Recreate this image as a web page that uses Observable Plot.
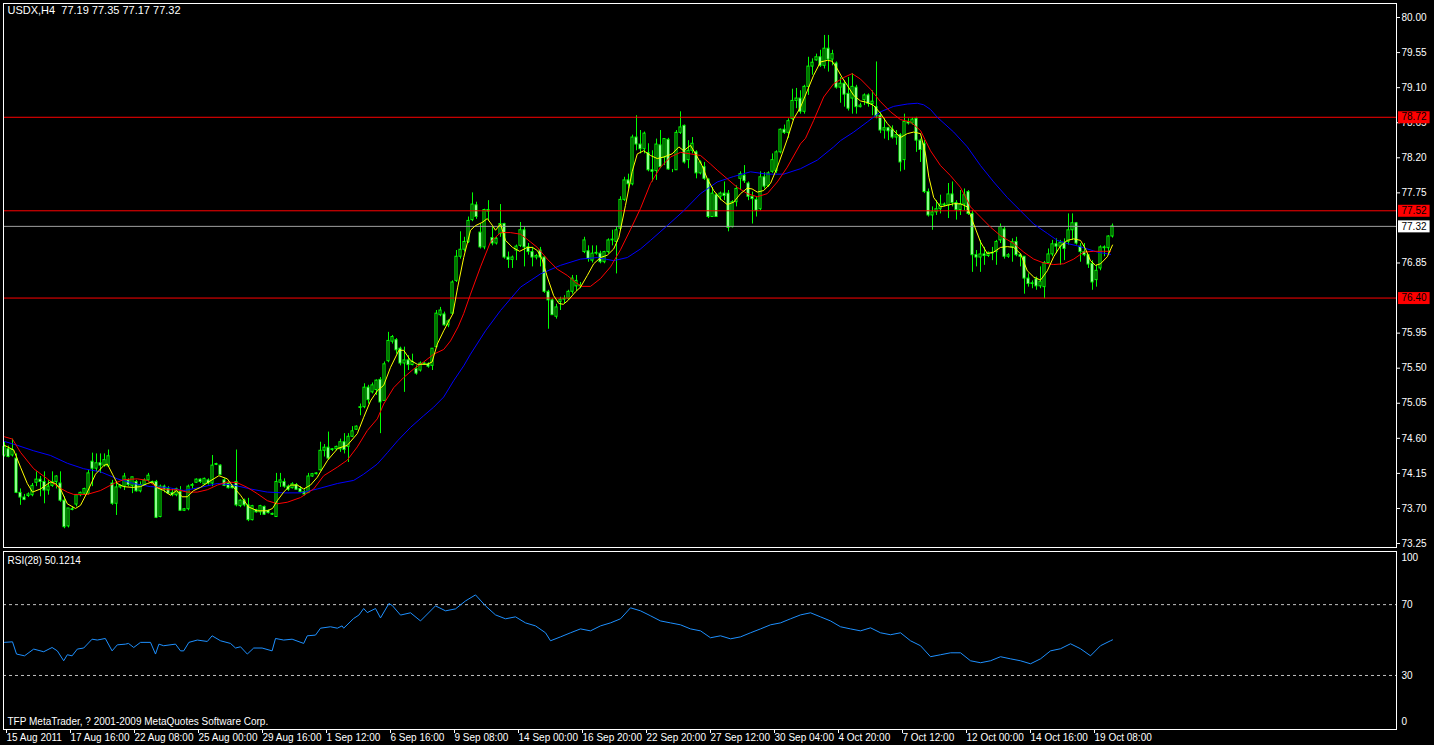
<!DOCTYPE html>
<html><head><meta charset="utf-8">
<script src="https://cdn.jsdelivr.net/npm/d3@7"></script>
<script src="https://cdn.jsdelivr.net/npm/@observablehq/plot@0.6"></script>
<style>
html,body{margin:0;padding:0;background:#000;}
#chart{width:1434px;height:745px;background:#000;overflow:hidden}
#chart svg{display:block}
</style></head><body><div id="chart"></div>
<script>
const symbol = "USDX,H4";
const timeLabels = ["15 Aug 2011","17 Aug 16:00","22 Aug 08:00","25 Aug 00:00","29 Aug 16:00","1 Sep 12:00","6 Sep 16:00","9 Sep 08:00","14 Sep 00:00","16 Sep 20:00","22 Sep 20:00","27 Sep 12:00","30 Sep 04:00","4 Oct 20:00","7 Oct 12:00","12 Oct 00:00","14 Oct 16:00","19 Oct 08:00"];
const labelBars = [0,16,32,48,64,80,96,112,128,144,160,176,192,208,224,240,256,272];
// OHLC per H4 bar
const candles = [
[74.38,74.55,74.36,74.49],[74.46,74.50,74.35,74.36],[74.38,74.59,74.36,74.45],[74.34,74.40,73.89,73.90],[73.90,73.95,73.74,73.84],
[73.84,73.88,73.80,73.81],[73.86,73.90,73.84,73.88],[73.87,74.02,73.85,73.99],[74.03,74.17,73.98,74.07],[74.07,74.11,73.85,74.04],
[74.04,74.17,73.76,73.93],[73.93,74.06,73.87,73.98],[73.99,74.17,73.97,74.04],[74.04,74.12,73.95,74.11],[74.02,74.17,73.78,73.80],
[73.80,73.85,73.44,73.46],[73.47,73.70,73.45,73.70],[73.69,73.72,73.67,73.68],[73.75,73.88,73.72,73.87],[73.87,73.91,73.85,73.90],
[73.89,73.96,73.87,73.95],[73.89,74.19,73.87,74.15],[74.30,74.41,73.98,74.21],[74.21,74.40,74.17,74.28],[74.28,74.40,74.15,74.25],
[74.25,74.40,74.23,74.32],[74.24,74.45,74.24,74.37],[74.02,74.06,73.74,73.76],[73.76,74.02,73.61,73.97],[73.97,74.00,73.95,73.99],
[73.98,74.15,73.93,74.11],[74.06,74.08,73.98,74.00],[73.99,74.10,73.89,74.10],[74.04,74.06,73.91,73.92],[73.92,74.04,73.90,74.00],
[74.00,74.08,74.00,74.06],[74.06,74.15,74.05,74.12],[74.04,74.05,74.01,74.03],[74.04,74.06,73.57,73.58],[73.59,74.00,73.58,73.98],
[73.98,74.00,73.90,73.94],[73.95,73.98,73.89,73.89],[73.90,73.95,73.85,73.87],[73.87,73.96,73.85,73.95],[73.91,73.98,73.67,73.67],
[73.67,73.70,73.66,73.69],[73.69,74.00,73.67,73.98],[73.99,74.02,73.95,74.00],[74.03,74.08,74.02,74.07],[74.07,74.08,74.02,74.04],
[74.01,74.09,74.00,74.08],[74.06,74.08,74.00,74.02],[74.02,74.38,73.98,74.25],[74.27,74.28,74.25,74.26],[74.25,74.26,74.12,74.13],
[74.06,74.08,73.98,73.99],[74.02,74.04,73.95,73.96],[73.99,74.00,73.95,73.96],[74.04,74.45,73.72,73.74],[73.73,73.81,73.71,73.80],
[73.80,73.82,73.72,73.74],[73.74,73.83,73.53,73.55],[73.55,73.74,73.54,73.73],[73.68,73.69,73.64,73.65],[73.65,73.74,73.61,73.73],
[73.72,73.73,73.61,73.62],[73.67,73.68,73.63,73.64],[73.63,73.64,73.61,73.62],[73.59,74.15,73.59,74.04],[74.03,74.15,73.97,74.06],
[74.04,74.08,73.96,73.98],[73.98,74.00,73.92,73.94],[73.96,74.03,73.95,74.01],[74.00,74.02,73.94,73.94],[73.95,73.98,73.90,73.91],
[73.91,73.94,73.86,73.88],[73.90,74.15,73.89,74.11],[74.11,74.15,74.10,74.14],[74.14,74.16,74.13,74.15],[74.19,74.55,74.18,74.44],
[74.44,74.52,74.36,74.48],[74.48,74.68,74.32,74.34],[74.45,74.47,74.43,74.46],[74.46,74.50,74.44,74.49],[74.46,74.59,74.42,74.55],
[74.55,74.66,74.40,74.45],[74.49,74.66,74.29,74.62],[74.62,74.75,74.61,74.69],[74.71,74.76,74.70,74.75],[74.99,75.04,74.89,75.00],
[75.00,75.30,74.98,75.25],[75.25,75.28,75.04,75.09],[75.19,75.31,75.17,75.28],[75.22,75.35,75.15,75.34],[75.35,75.38,74.66,75.06],
[75.08,75.58,75.08,75.55],[75.59,75.96,75.57,75.85],[75.84,75.92,75.81,75.90],[75.86,75.88,75.68,75.73],[75.75,75.77,75.53,75.56],
[75.56,75.77,75.19,75.60],[75.60,75.66,75.47,75.54],[75.54,75.68,75.53,75.58],[75.49,75.53,75.41,75.43],[75.47,75.58,75.45,75.56],
[75.55,75.57,75.54,75.56],[75.55,75.57,75.50,75.52],[75.53,75.75,75.47,75.75],[75.77,76.24,75.77,76.20],[76.18,76.28,76.16,76.24],
[76.19,76.22,76.04,76.05],[76.05,76.12,76.02,76.10],[76.20,76.62,76.19,76.60],[76.62,77.01,76.60,76.93],[76.93,77.25,76.90,77.02],
[77.02,77.18,76.99,77.12],[77.12,77.44,77.10,77.39],[77.40,77.75,77.38,77.60],[77.59,77.63,77.41,77.44],[77.24,77.35,77.03,77.05],
[77.05,77.54,77.02,77.53],[77.53,77.65,77.39,77.51],[77.17,77.31,77.07,77.10],[77.10,77.18,77.08,77.16],[77.22,77.60,77.18,77.35],
[77.35,77.36,76.90,76.92],[76.92,76.99,76.78,76.89],[76.89,76.94,76.78,76.92],[77.01,77.08,76.88,77.06],[77.07,77.37,77.05,77.27],
[77.27,77.31,76.80,77.05],[77.05,77.10,76.95,76.99],[76.99,77.05,76.80,76.92],[76.92,76.96,76.89,76.94],[77.01,77.05,76.80,76.92],
[76.92,76.93,76.46,76.48],[76.48,76.50,76.00,76.37],[76.37,76.39,76.18,76.18],[76.16,76.32,76.13,76.28],[76.35,76.41,76.24,76.38],
[76.38,76.43,76.33,76.39],[76.39,76.50,76.37,76.48],[76.48,76.69,76.45,76.65],[76.55,76.69,76.49,76.62],[76.56,76.60,76.52,76.55],
[76.99,77.18,76.97,77.14],[77.00,77.07,76.86,76.90],[76.88,77.07,76.85,76.97],[76.97,77.07,76.95,76.98],[76.97,77.00,76.84,76.86],
[76.86,77.00,76.84,76.99],[76.99,77.16,76.97,77.14],[77.14,77.27,77.07,77.15],[77.12,77.31,76.71,77.27],[77.29,77.70,77.27,77.66],
[77.66,77.95,77.64,77.91],[77.91,77.99,77.80,77.86],[77.86,78.49,77.84,78.46],[78.46,78.74,78.29,78.37],[78.37,78.55,78.25,78.31],
[78.31,78.53,78.25,78.51],[78.26,78.38,78.02,78.04],[78.04,78.29,77.89,78.02],[78.03,78.44,77.91,78.37],[78.36,78.55,78.06,78.08],
[78.20,78.44,78.10,78.44],[78.43,78.45,78.04,78.05],[78.03,78.05,78.01,78.03],[78.04,78.55,78.04,78.52],[78.52,78.79,78.50,78.59],
[78.61,78.62,78.12,78.14],[78.17,78.42,78.06,78.29],[78.29,78.46,78.25,78.38],[78.27,78.29,77.93,78.00],[78.00,78.16,77.98,78.14],
[78.08,78.14,77.91,77.93],[77.92,77.93,77.42,77.44],[77.44,77.82,77.44,77.74],[77.72,77.74,77.44,77.44],[77.70,77.76,77.65,77.74],
[77.74,77.89,77.65,77.71],[77.74,77.78,77.25,77.30],[77.31,77.65,77.30,77.63],[77.63,77.84,77.57,77.80],[77.93,78.02,77.78,77.99],
[77.97,78.10,77.87,77.90],[77.87,77.89,77.65,77.70],[77.70,77.76,77.35,77.67],[77.66,77.69,77.44,77.52],[77.54,78.02,77.52,77.95],
[77.95,78.01,77.80,77.83],[77.84,78.02,77.82,78.00],[78.02,78.25,78.00,78.17],[78.03,78.29,78.00,78.27],[78.27,78.57,78.25,78.56],
[78.56,78.62,78.50,78.52],[78.52,78.70,78.45,78.67],[78.70,79.08,78.68,78.93],[78.93,79.09,78.83,78.96],[78.96,79.06,78.76,78.79],
[78.79,79.13,78.76,79.11],[79.11,79.49,79.00,79.37],[79.37,79.47,79.26,79.42],[79.45,79.53,79.44,79.49],[79.49,79.58,79.36,79.38],
[79.38,79.77,79.34,79.60],[79.60,79.77,79.30,79.46],[79.46,79.58,79.38,79.53],[79.41,79.43,79.08,79.10],[79.10,79.23,78.90,79.15],
[79.15,79.19,78.85,79.01],[79.02,79.23,78.80,78.83],[78.96,79.28,78.76,79.11],[79.10,79.13,78.76,78.85],[78.85,78.90,78.84,78.87],
[78.94,79.02,78.87,79.00],[79.00,79.02,78.85,78.89],[78.89,79.06,78.74,78.92],[78.85,79.43,78.70,78.73],[78.74,78.78,78.51,78.55],
[78.55,78.70,78.44,78.58],[78.58,78.59,78.42,78.54],[78.56,78.61,78.44,78.46],[78.46,78.55,78.36,78.49],[78.49,78.51,78.02,78.14],
[78.17,78.76,78.04,78.66],[78.66,78.70,78.62,78.64],[78.64,78.71,78.62,78.69],[78.70,78.72,78.27,78.42],[78.42,78.44,78.14,78.30],
[78.38,78.42,77.74,77.76],[77.76,77.80,77.44,77.46],[77.46,77.57,77.27,77.50],[77.50,77.65,77.46,77.54],[77.54,77.72,77.48,77.60],
[77.60,77.62,77.57,77.59],[77.59,77.87,77.42,77.73],[77.73,77.89,77.57,77.62],[77.62,77.65,77.40,77.53],[77.53,77.78,77.46,77.60],
[77.60,77.80,77.52,77.72],[77.76,77.78,77.46,77.48],[77.48,77.52,76.73,76.95],[76.95,77.01,76.80,76.92],[76.92,77.14,76.73,76.96],
[76.96,77.05,76.82,76.94],[76.94,76.99,76.92,76.98],[76.98,77.05,76.88,76.97],[76.99,77.14,76.82,77.12],[77.14,77.35,77.10,77.31],
[77.28,77.31,76.90,76.93],[76.93,76.97,76.91,76.95],[77.05,77.16,76.86,77.12],[77.12,77.18,76.93,76.95],[76.95,76.97,76.80,76.93],
[76.93,76.93,76.45,76.65],[76.65,76.71,76.54,76.58],[76.58,76.62,76.52,76.59],[76.64,76.67,76.50,76.55],[76.55,76.80,76.52,76.61],
[76.54,76.87,76.39,76.85],[76.85,77.03,76.84,76.96],[76.96,77.14,76.93,77.09],[77.09,77.16,76.97,77.06],[77.06,77.14,76.82,77.11],
[77.11,77.16,76.88,77.03],[77.12,77.48,77.08,77.27],[77.27,77.48,77.14,77.36],[77.36,77.37,77.08,77.10],[77.06,77.10,76.86,76.99],
[76.99,77.10,76.93,76.95],[76.95,76.95,76.78,76.83],[76.84,76.88,76.50,76.60],[76.63,76.82,76.54,76.75],[76.78,77.07,76.75,77.05],
[77.05,77.07,76.93,77.04],[77.04,77.20,76.97,77.19],[77.19,77.35,77.17,77.32]
];
// moving averages [bar, price]
const maYellow = [[0,74.51],[2.3,74.45],[4,74.23],[5.7,74.02],[7,73.91],[9,73.95],[11.5,74.04],[12.75,74.02],[14,73.95],[15.7,73.76],[17.75,73.70],[19,73.74],[20.7,73.91],[22.75,74.14],[24.8,74.25],[25.7,74.27],[27,74.14],[28.2,74.02],[29.8,73.98],[32,73.97],[34,73.98],[35.7,74.02],[37,74.04],[38,73.97],[39.8,73.93],[41.5,73.87],[43,73.93],[44.4,73.85],[45.7,73.85],[47.3,73.93],[49,73.97],[51,74.04],[53.6,74.12],[55.7,74.08],[57.3,73.97],[59,73.87],[61,73.72],[63.2,73.67],[65.7,73.67],[67,73.70],[68.2,73.80],[69.8,73.91],[71.5,74.00],[73.2,74.00],[74.8,73.95],[76.5,74.00],[78.2,74.10],[79,74.17],[80.8,74.32],[83.3,74.47],[85.7,74.51],[88.2,74.66],[89.8,74.87],[91.5,75.08],[93.2,75.21],[94.8,75.28],[96.5,75.51],[98.6,75.73],[99.8,75.73],[101.5,75.60],[103.2,75.55],[105.7,75.55],[106.9,75.58],[108.2,75.81],[109.8,75.98],[112.1,76.20],[113.3,76.54],[114.8,76.92],[116.5,77.27],[117.75,77.33],[119.4,77.37],[120.7,77.42],[122,77.33],[122.75,77.27],[124,77.35],[125.25,77.14],[127,77.05],[128.8,77.00],[130.7,77.05],[132,77.05],[133.2,77.01],[134.4,76.90],[135.7,76.67],[137.3,76.43],[138.6,76.33],[139.7,76.32],[140.9,76.37],[142.75,76.48],[144,76.54],[145.7,76.69],[147.3,76.84],[149,76.92],[150.7,76.95],[152.3,77.03],[153.6,77.18],[155.25,77.59],[156.9,78.02],[158.2,78.25],[159.8,78.29],[161.5,78.23],[163.2,78.19],[164.8,78.21],[166.9,78.25],[168.6,78.34],[169.8,78.29],[171.5,78.36],[172.75,78.25],[174.4,78.10],[175.7,77.93],[177.3,77.78],[179,77.67],[180.7,77.60],[182.3,77.63],[184,77.74],[185.7,77.81],[186.9,77.80],[188.2,77.76],[189.8,77.78],[191.5,77.87],[193.2,78.08],[194.4,78.25],[195.7,78.44],[197.3,78.70],[199,78.85],[200.7,79.06],[202.3,79.26],[204,79.43],[205.7,79.45],[206.9,79.44],[208.2,79.34],[209.4,79.23],[210.7,79.13],[212.3,79.00],[214,78.93],[215.7,78.91],[217.3,78.87],[219,78.77],[220.7,78.64],[222.3,78.55],[224,78.46],[225.7,78.51],[227.3,78.53],[229,78.51],[230.25,78.25],[231.1,77.95],[232.3,77.69],[234,77.57],[235.7,77.59],[237.3,77.61],[239,77.61],[240.7,77.57],[242.3,77.35],[244,77.12],[245.7,76.97],[247.3,76.99],[249,77.05],[250.7,77.06],[252.3,77.05],[254,76.97],[255.7,76.75],[257.3,76.67],[259,76.63],[260.7,76.75],[262.3,76.93],[264,77.07],[265.7,77.14],[267.3,77.16],[269,77.14],[270.25,77.03],[271.5,76.88],[272.75,76.82],[274,76.84],[275.7,76.93],[277,77.08]];
const maRed = [[0,74.62],[2,74.59],[4,74.42],[7.3,74.21],[10.7,74.08],[13.6,73.97],[15.7,73.91],[17.3,73.88],[20.7,73.88],[24,73.93],[27.3,74.02],[29.8,74.07],[33.2,74.08],[35.7,74.06],[38.2,73.97],[40.7,73.94],[43.2,73.94],[45.7,73.91],[48.2,73.91],[50.7,73.94],[53.2,74.00],[55.7,74.04],[58.2,74.03],[60.7,73.97],[63.2,73.89],[65.7,73.80],[68.2,73.76],[70.7,73.78],[74,73.84],[77.3,73.95],[79.8,74.12],[83.2,74.23],[85.7,74.32],[88.2,74.49],[90.7,74.70],[93.2,74.85],[94.8,75.04],[97.3,75.25],[99.8,75.38],[102.3,75.49],[104.8,75.58],[107.3,75.68],[109.8,75.74],[111.5,75.85],[113.4,76.03],[114.8,76.20],[116.5,76.45],[119,76.80],[121.5,77.12],[124,77.24],[126.5,77.24],[129,77.22],[131.5,77.12],[133.2,77.05],[135.7,76.90],[138.2,76.77],[140.7,76.69],[142.75,76.60],[144.4,76.55],[146.5,76.55],[149,76.65],[151.5,76.80],[154,77.02],[156.5,77.28],[159,77.55],[161.5,77.87],[164,78.08],[166.5,78.21],[169,78.27],[171.5,78.25],[174,78.23],[176.5,78.12],[178.2,78.04],[180.7,77.93],[183.2,77.82],[185.7,77.74],[188.2,77.70],[190.7,77.74],[193.2,77.89],[195.7,78.08],[199,78.38],[200.25,78.45],[202.3,78.68],[204.8,78.98],[207.3,79.15],[209.8,79.23],[211.9,79.28],[214,79.21],[216.5,79.08],[219,78.92],[221.5,78.79],[224,78.69],[226.5,78.66],[229,78.55],[231.5,78.29],[234,78.10],[236.5,77.97],[239,77.82],[241.5,77.57],[244,77.44],[246.5,77.31],[249,77.20],[252.3,77.10],[254.8,76.99],[257.3,76.90],[259.8,76.85],[262.3,76.83],[264.8,76.84],[267.3,76.90],[269.8,76.99],[272.3,77.00],[274.8,77.00],[276.5,77.00]];
const maBlue = [[0,74.56],[3.2,74.51],[7.3,74.44],[11.5,74.38],[15.7,74.28],[19.8,74.21],[24,74.17],[28.2,74.08],[32.3,74.02],[36.5,73.98],[40.7,73.97],[44.8,73.93],[49,73.97],[53.2,74.02],[57.3,74.00],[61.5,73.95],[65.7,73.91],[69.8,73.90],[74,73.90],[78.2,73.95],[83.2,74.02],[87.3,74.06],[89.8,74.14],[93.2,74.27],[95.8,74.42],[98.3,74.57],[101.5,74.74],[104.8,74.89],[107.3,75.00],[109.8,75.13],[112.3,75.34],[114.8,75.53],[116.5,75.68],[120.25,75.98],[124,76.24],[129,76.54],[134,76.71],[139,76.82],[144,76.90],[148.2,76.92],[152.3,76.88],[155.7,76.92],[159,77.03],[161.5,77.14],[165.7,77.33],[169.8,77.52],[174,77.74],[178.2,77.89],[182.3,77.96],[186.5,78.02],[190.7,77.99],[194.8,77.99],[199,78.06],[203.2,78.17],[207.3,78.34],[209,78.42],[212.3,78.53],[215.7,78.66],[219,78.79],[222.3,78.86],[225.7,78.89],[228.2,78.90],[229.8,78.88],[231.5,78.82],[233.2,78.72],[237.3,78.53],[240.7,78.34],[244,78.10],[247.3,77.89],[250.7,77.69],[254,77.52],[257.3,77.35],[260.7,77.23],[263.2,77.14],[265.7,77.10],[268.2,77.07],[270.7,77.03],[273.2,76.99],[276.5,76.96]];
// RSI(28) [bar, value]
const rsi = [[0,48.7],[2,49.0],[3,42.1],[5,41.1],[7.3,44.9],[9.8,43.4],[11.9,45.8],[13.2,43.9],[14.8,38.3],[15.7,41.7],[16.9,41.1],[18.2,44.9],[19.8,45.5],[21.9,50.5],[23.2,50.0],[25.2,50.9],[26.9,43.9],[28.2,47.3],[30.25,47.7],[31,48.1],[32.3,45.8],[34,48.7],[36.5,48.7],[37.75,42.1],[38.6,47.7],[39.8,46.8],[42.75,47.7],[44,43.9],[44.8,43.9],[46.1,48.7],[48.2,50.0],[50.7,49.2],[51.9,52.4],[54,49.6],[56.5,48.1],[57.75,45.5],[59,46.2],[60.7,42.1],[62.3,45.5],[64.4,45.5],[66.9,43.9],[67.75,50.9],[69.8,50.0],[71.9,50.5],[74.8,48.1],[75.7,52.4],[77.75,52.8],[79,56.7],[81.5,57.5],[83.2,56.7],[84.4,58.0],[84.8,56.7],[87.3,62.2],[88.6,64.1],[89.8,67.8],[90.7,65.5],[92.75,67.8],[94,62.5],[96.1,70.6],[96.9,69.6],[99,64.1],[101.5,65.4],[104,60.8],[107.75,69.3],[110.25,66.5],[112.75,67.6],[115.25,72.1],[117.75,75.5],[120.25,69.3],[122.75,64.2],[125.25,62.0],[127.75,63.1],[130.25,59.7],[132.75,58.0],[135.25,54.1],[136.5,49.6],[139,51.8],[141.5,54.1],[144,56.3],[146.5,55.2],[149,58.0],[151.5,59.7],[154,62.0],[156.5,68.2],[159,66.5],[161.5,63.7],[164,60.8],[166.5,59.7],[169,58.6],[171.5,56.3],[174,55.2],[176.5,51.3],[179,52.4],[181.5,50.7],[184,51.8],[186.5,54.1],[189,56.3],[191.5,58.6],[194,59.7],[196.5,62.0],[199,64.2],[201.5,65.4],[204,63.1],[206.5,60.8],[209,57.5],[211.5,56.3],[214,55.2],[216.5,56.9],[219,54.1],[221.5,53.0],[224,54.1],[226.5,49.6],[229,46.8],[231.5,40.6],[234,41.7],[236.5,42.8],[239,42.8],[241.5,38.3],[244,37.2],[246.5,38.3],[249,40.6],[251.5,39.4],[254,38.3],[256.5,36.6],[259,39.4],[261.5,43.9],[264,45.1],[266.5,47.9],[269,45.1],[271.5,41.1],[274,46.8],[276.5,49.6],[277,50.12]];
const rsiLast = "50.1214";
const rsiPeriod = 28;
const levelsRed = [78.72, 77.52, 76.40];
const bidLevel = 77.32;
const priceTicks = [80.00,79.55,79.10,78.65,78.20,77.75,77.30,76.85,76.40,75.95,75.50,75.05,74.60,74.15,73.70,73.25];
const rsiLevels = [70, 30];
const rsiTicksMid = [70, 30];
const rsiTickTop = [100];
const rsiTickBottom = [0];
const copyright = "TFP MetaTrader, ? 2001-2009 MetaQuotes Software Corp.";

const bars = candles.map(([o,h,l,c], i) => ({i, o, h, l, c, up: c >= o}));
const last = candles[candles.length - 1];
const fmt = d3.format(".2f");
const title = `${symbol}  ${last.map(fmt).join(" ")}`;
const W = 1434;
const FONT = "'Liberation Sans', Arial, sans-serif";
const xDomain = [-0.25, 348];
const boxX1 = 348.5, boxX2 = 356.4, labelX = 349.25;
const labelMap = new Map(labelBars.map((b, k) => [b, timeLabels[k]]));
const P = d => d[0], V = d => d[1];
// tick labels fully covered by the price boxes in the reference are not drawn
const boxed = new Set([...levelsRed, bidLevel].map(fmt));
const visibleTicks = priceTicks.filter(t => !boxed.has(fmt(t)) && fmt(t) !== "77.30");

const main = Plot.plot({
  width: W, height: 549,
  marginTop: 3, marginBottom: 2, marginLeft: 3, marginRight: 38,
  style: {background: "#000", color: "#fff", fontFamily: FONT, fontSize: "10px", overflow: "visible"},
  x: {domain: xDomain, axis: null},
  y: {domain: [73.199, 80.18], axis: null},
  marks: [
    Plot.ruleX(bars, {x: "i", y1: "l", y2: "h", stroke: "#00ff00", strokeWidth: 1}),
    Plot.rect(bars, {x1: d => d.i - 0.26, x2: d => d.i + 0.26, y1: "o", y2: "c",
      fill: d => d.up ? "#000" : "#fff", stroke: "#00ff00", strokeWidth: 1}),
    Plot.ruleY(levelsRed, {stroke: "#ff0000"}),
    Plot.ruleY([bidLevel], {stroke: "#a0a0a0"}),
    Plot.line(maBlue, {x: P, y: V, stroke: "#0000ff", strokeWidth: 1}),
    Plot.line(maRed, {x: P, y: V, stroke: "#ff0000", strokeWidth: 1}),
    Plot.line(maYellow, {x: P, y: V, stroke: "#ffff00", strokeWidth: 1}),
    Plot.frame({stroke: "#fff"}),
    Plot.axisY({anchor: "right", ticks: visibleTicks, tickFormat: fmt, tickSize: 3, tickPadding: 2, label: null, fill: "#fff", stroke: "#fff"}),
    Plot.ruleY(levelsRed, {y: d => d, x1: boxX1, x2: boxX2, stroke: "#ff0000", strokeWidth: 12}),
    Plot.text(levelsRed, {y: d => d, x: labelX, text: fmt, textAnchor: "start", fill: "#000"}),
    Plot.ruleY([bidLevel], {y: d => d, x1: boxX1, x2: boxX2, stroke: "#fff", strokeWidth: 12}),
    Plot.text([bidLevel], {y: d => d, x: labelX, text: fmt, textAnchor: "start", fill: "#000"}),
    Plot.text([title], {frameAnchor: "top-left", dx: 4, dy: 3, lineAnchor: "top", textAnchor: "start", fill: "#fff", fontSize: 11})
  ]
});

const rsiChart = Plot.plot({
  width: W, height: 196,
  marginTop: 2, marginBottom: 16, marginLeft: 3, marginRight: 38,
  style: {background: "#000", color: "#fff", fontFamily: FONT, fontSize: "10px", overflow: "visible"},
  x: {domain: xDomain, axis: null},
  y: {domain: [-0.5, 100], axis: null},
  marks: [
    Plot.ruleY(rsiLevels, {stroke: "#c0c0c0", strokeDasharray: "3,3"}),
    Plot.line(rsi, {x: P, y: V, stroke: "#1e90ff", strokeWidth: 1}),
    Plot.frame({stroke: "#fff"}),
    Plot.axisX({ticks: labelBars, tickFormat: d => labelMap.get(d), tickSize: 4, tickPadding: 0,
      textAnchor: "start", dx: 2, label: null, fill: "#fff", stroke: "#fff", letterSpacing: "-0.3px"}),
    Plot.text(rsiTicksMid, {y: d => d, x: labelX, text: d => String(d), textAnchor: "start", fill: "#fff"}),
    Plot.text(rsiTickTop, {y: d => d, x: labelX, dy: 6, text: d => String(d), textAnchor: "start", fill: "#fff"}),
    Plot.text(rsiTickBottom, {y: d => d, x: labelX, dy: -7, text: d => String(d), textAnchor: "start", fill: "#fff"}),
    Plot.text([`RSI(${rsiPeriod}) ${rsiLast}`], {frameAnchor: "top-left", dx: 4, dy: 5, lineAnchor: "top", textAnchor: "start", fill: "#fff"}),
    Plot.text([copyright], {frameAnchor: "bottom-left", dx: 4, dy: -5, lineAnchor: "bottom", textAnchor: "start", fill: "#fff"})
  ]
});

const root = document.getElementById("chart");
root.appendChild(main);
root.appendChild(rsiChart);
</script>
</body></html>
